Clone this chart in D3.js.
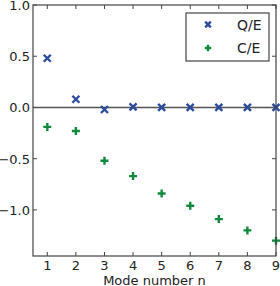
<!DOCTYPE html>
<html>
<head>
<meta charset="utf-8">
<script src="https://cdn.jsdelivr.net/npm/d3@7"></script>
<style>
body { margin: 0; background: #fff; }
text { font-family: "DejaVu Sans", sans-serif; }
</style>
</head>
<body>
<div id="chart"></div>
<script>
var modes = [1, 2, 3, 4, 5, 6, 7, 8, 9]
var qe = [0.48, 0.08, -0.02, 0.005, 0.0, 0.0, 0.0, 0.0, 0.0]
var ce = [-0.19, -0.23, -0.52, -0.67, -0.84, -0.96, -1.09, -1.20, -1.30]
var yTicks = [-1.0, -0.5, 0.0, 0.5, 1.0]
var labels = ["Q/E", "C/E"]

var width = 280, height = 286
var margin = {left: 33, top: 5, right: 4, bottom: 30}

var blue = "#2b4b9c", green = "#10893d"

var svg = d3.select("#chart").append("svg")
    .attr("width", width)
    .attr("height", height)

var x = d3.scaleLinear().domain([0.5, 9]).range([margin.left, width - margin.right])
var y = d3.scaleLinear().domain([-1.45, 1.0]).range([height - margin.bottom, margin.top])

var x0 = x.range()[0], x1 = x.range()[1]
var y0 = y.range()[0], y1 = y.range()[1]

// ticks inside on all four sides
var tk = svg.append("g").attr("stroke", "#444").attr("stroke-width", 1)
modes.forEach(function(m) {
    tk.append("line").attr("x1", x(m)).attr("x2", x(m)).attr("y1", y0).attr("y2", y0 - 4)
    tk.append("line").attr("x1", x(m)).attr("x2", x(m)).attr("y1", y1).attr("y2", y1 + 4)
})
yTicks.forEach(function(v) {
    tk.append("line").attr("x1", x0).attr("x2", x0 + 4).attr("y1", y(v)).attr("y2", y(v))
    tk.append("line").attr("x1", x1).attr("x2", x1 - 4).attr("y1", y(v)).attr("y2", y(v))
})

svg.selectAll(".xl").data(modes).enter().append("text")
    .attr("x", d => x(d))
    .attr("y", y0 + 14)
    .attr("text-anchor", "middle")
    .attr("font-size", 13)
    .attr("fill", "#222")
    .text(d => d)

svg.selectAll(".yl").data(yTicks).enter().append("text")
    .attr("x", x0 - 3)
    .attr("y", d => y(d) + 5)
    .attr("text-anchor", "end")
    .attr("font-size", 13)
    .attr("fill", "#222")
    .text(d => d3.format(".1f")(d).replace("-", "\u2212"))

svg.append("text")
    .attr("x", (x0 + x1) / 2)
    .attr("y", height - 1)
    .attr("text-anchor", "middle")
    .attr("font-size", 13)
    .attr("fill", "#222")
    .text("Mode number n")

// zero line
svg.append("line")
    .attr("x1", x0).attr("x2", x1)
    .attr("y1", y(0)).attr("y2", y(0))
    .attr("stroke", "#555").attr("stroke-width", 1.5)

var plot = svg.append("g")

function xMark(g, cx, cy, s, col) {
    g.append("path")
        .attr("d", `M${cx - s},${cy - s}L${cx + s},${cy + s}M${cx - s},${cy + s}L${cx + s},${cy - s}`)
        .attr("stroke", col).attr("stroke-width", 2.4).attr("fill", "none")
}
function plusMark(g, cx, cy, s, col) {
    g.append("path")
        .attr("d", `M${cx - s},${cy}L${cx + s},${cy}M${cx},${cy - s}L${cx},${cy + s}`)
        .attr("stroke", col).attr("stroke-width", 2.4).attr("fill", "none")
}

modes.forEach(function(m, i) {
    xMark(plot, x(m), y(qe[i]), 3.5, blue)
    plusMark(plot, x(m), y(ce[i]), 4, green)
})

// frame
svg.append("rect")
    .attr("x", x0).attr("y", y1)
    .attr("width", x1 - x0).attr("height", y0 - y1)
    .attr("fill", "none").attr("stroke", "#444").attr("stroke-width", 1.2)

// legend
var lg = svg.append("g")
lg.append("rect")
    .attr("x", 186).attr("y", 13).attr("width", 83).attr("height", 48)
    .attr("fill", "#fff").attr("stroke", "#444").attr("stroke-width", 1.2)
xMark(lg, 208, 24.5, 2.8, blue)
plusMark(lg, 208, 48, 3.2, green)
labels.forEach(function(l, i) {
    lg.append("text")
        .attr("x", 237).attr("y", 29.5 + i * 23.5)
        .attr("font-size", 14)
        .attr("fill", "#222")
        .text(l)
})
</script>
</body>
</html>
